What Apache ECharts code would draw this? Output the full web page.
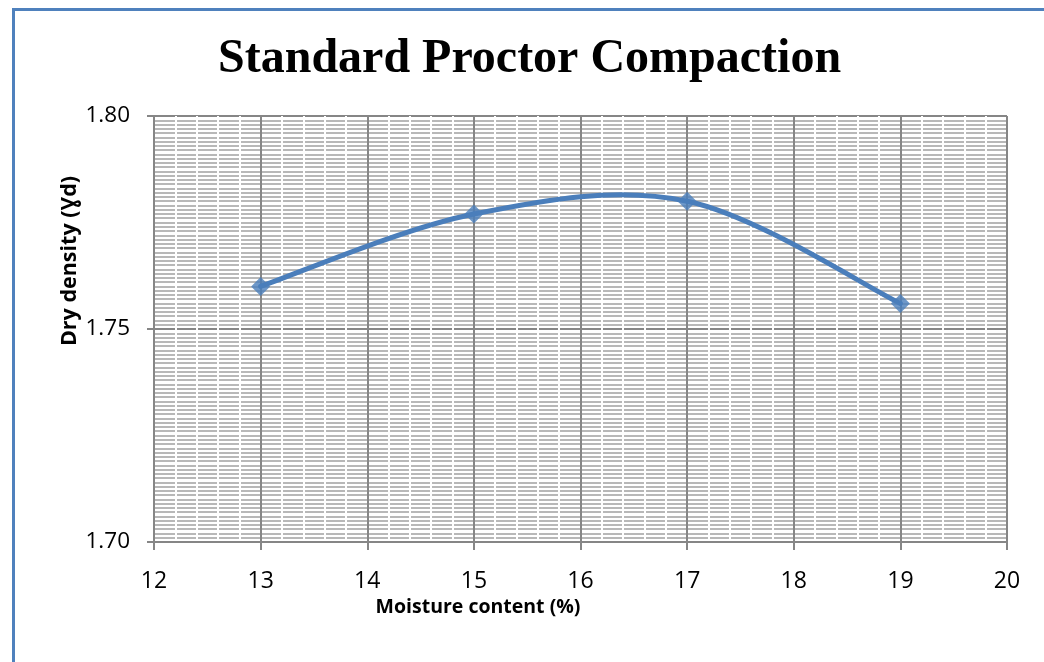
<!DOCTYPE html>
<html>
<head>
<meta charset="utf-8">
<title>Standard Proctor Compaction</title>
<script src="https://cdn.jsdelivr.net/npm/echarts@6/dist/echarts.min.js"></script>
<style>
  html, body { margin: 0; padding: 0; background: #ffffff; }
  #chart { width: 1044px; height: 662px; }
</style>
</head>
<body>
<div id="chart"></div>
<script>
// Compaction test results: moisture content (%) vs dry density
const moistureContent = [13, 15, 17, 19];
const dryDensity = [1.760, 1.777, 1.780, 1.756];

const xTicks = { min: 12, max: 20, interval: 1 };
const yTicks = { min: 1.70, max: 1.80, interval: 0.05 };

const titleText = 'Standard Proctor Compaction';
const xName = 'Moisture content (%)';
const yName = 'Dry density (\u0194d)';

const labelFont = '"Open Sans", "Liberation Sans", sans-serif';
const axisGray = '#868686';
const lineBlue = '#4a7ebb';

const points = moistureContent.map((m, i) => [m, dryDensity[i]]);

// Smoothed curve: one cubic Bezier per segment, Catmull-Rom style control
// points computed in pixel space from the neighbouring data points.
function renderSegment(params, api) {
  const i = params.dataIndex;
  if (i >= points.length - 1) return null;
  const p = k => api.coord(points[Math.max(0, Math.min(points.length - 1, k))]);
  const p0 = p(i - 1), p1 = p(i), p2 = p(i + 1), p3 = p(i + 2);
  const t = 1 / 6;
  const c1 = [p1[0] + (p2[0] - p0[0]) * t, p1[1] + (p2[1] - p0[1]) * t];
  const c2 = [p2[0] - (p3[0] - p1[0]) * t, p2[1] - (p3[1] - p1[1]) * t];
  return {
    type: 'bezierCurve',
    shape: { x1: p1[0], y1: p1[1], x2: p2[0], y2: p2[1], cpx1: c1[0], cpy1: c1[1], cpx2: c2[0], cpy2: c2[1] },
    style: { stroke: lineBlue, lineWidth: 5, fill: null, lineCap: 'round' }
  };
}

const chart = echarts.init(document.getElementById('chart'), null, { renderer: 'canvas' });

chart.setOption({
  backgroundColor: '#ffffff',
  animation: false,
  title: {
    text: titleText,
    left: 218,
    top: 36,
    padding: 0,
    textStyle: {
      fontFamily: '"Liberation Serif", "Times New Roman", serif',
      fontWeight: 'bold',
      fontSize: 48,
      color: '#000000'
    }
  },
  grid: {
    left: 154,
    right: 37,
    top: 116,
    bottom: 120,
    containLabel: false
  },
  xAxis: {
    type: 'value',
    min: xTicks.min,
    max: xTicks.max,
    interval: xTicks.interval,
    z: 3,
    axisLine: { show: true, onZero: false, lineStyle: { color: axisGray, width: 2 } },
    axisTick: { show: true, length: 8, lineStyle: { color: axisGray, width: 2 } },
    axisLabel: {
      margin: 28,
      fontFamily: labelFont,
      fontSize: 23,
      color: '#000000'
    },
    splitLine: { show: true, lineStyle: { color: axisGray, width: 2 } },
    minorTick: { show: false, splitNumber: 5 },
    minorSplitLine: { show: true, lineStyle: { color: '#ffffff', width: 2 } }
  },
  yAxis: {
    type: 'value',
    min: yTicks.min,
    max: yTicks.max,
    interval: yTicks.interval,
    z: 1,
    axisLine: { show: true, onZero: false, lineStyle: { color: axisGray, width: 2 } },
    axisTick: { show: true, length: 7, lineStyle: { color: axisGray, width: 2 } },
    axisLabel: {
      margin: 24,
      fontFamily: labelFont,
      fontSize: 22.5,
      color: '#000000',
      formatter: v => v.toFixed(2)
    },
    splitLine: { show: true, lineStyle: { color: axisGray, width: 2 } },
    minorTick: { show: false, splitNumber: 50 },
    minorSplitLine: { show: true, lineStyle: { color: '#b8b8b8', width: 2 } }
  },
  series: [
    {
      type: 'custom',
      name: 'curve',
      z: 5,
      renderItem: renderSegment,
      data: points,
      encode: { x: 0, y: 1 }
    },
    {
      type: 'scatter',
      name: 'Dry density',
      z: 6,
      data: points,
      symbol: 'diamond',
      symbolSize: 19,
      itemStyle: { color: lineBlue }
    }
  ],
  graphic: [
    {
      type: 'rect',
      silent: true,
      shape: { x: 13.5, y: 9.5, width: 2000, height: 2000 },
      style: { fill: 'none', stroke: '#4f81bd', lineWidth: 3 }
    },
    {
      type: 'text',
      x: 478,
      y: 607,
      style: {
        text: xName,
        fontFamily: labelFont,
        fontWeight: 'bold',
        fontSize: 19.5,
        fill: '#000000',
        align: 'center',
        verticalAlign: 'middle'
      }
    },
    {
      type: 'text',
      x: 70,
      y: 261,
      rotation: Math.PI / 2,
      style: {
        text: yName,
        fontFamily: labelFont,
        fontWeight: 'bold',
        fontSize: 21.5,
        fill: '#000000',
        align: 'center',
        verticalAlign: 'middle'
      }
    }
  ]
});
</script>
</body>
</html>
